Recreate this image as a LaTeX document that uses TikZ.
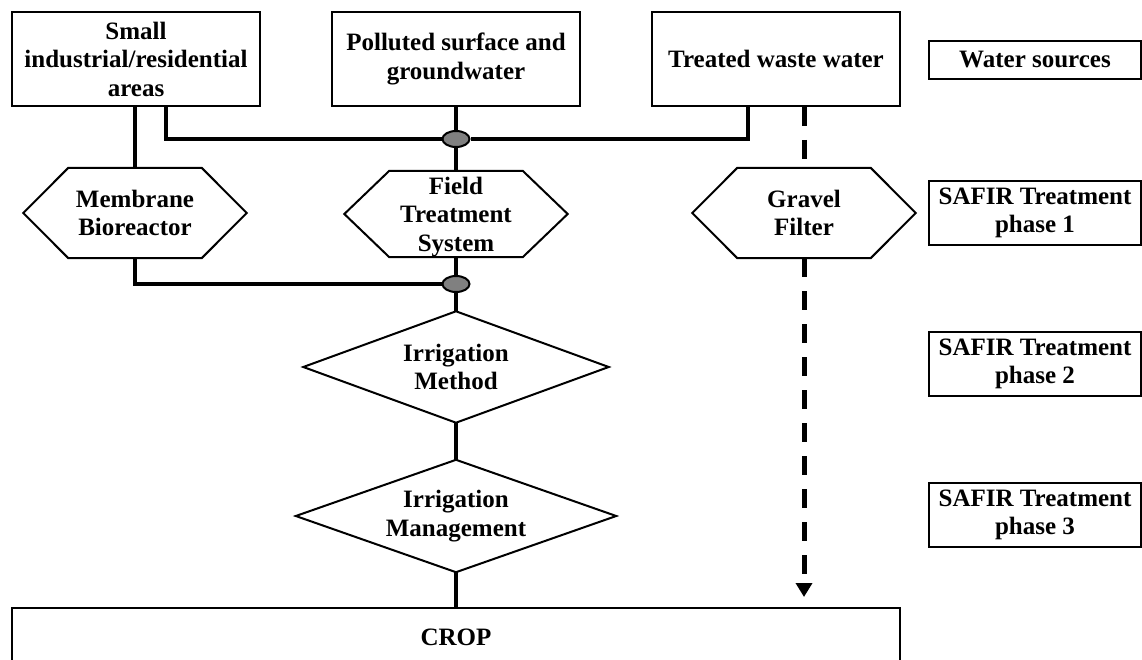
\documentclass[tikz,border=0pt]{standalone}
\usepackage{fontspec}
\setmainfont{Liberation Serif}
\usetikzlibrary{shapes.geometric,arrows.meta,calc}
\newcommand\hexframe[1]{\draw[frame] (#1.north west) -- (#1.north east) -- ([xshift=45pt]#1.east) -- (#1.south east) -- (#1.south west) -- ([xshift=-45pt]#1.west) -- cycle;}
\newcommand\diamframe[1]{\draw[frame] (#1.north) -- (#1.east) -- (#1.south) -- (#1.west) -- cycle;}
\begin{document}
\begin{tikzpicture}[x=1pt,y=-1pt,
  every node/.style={font=\bfseries\fontsize{25}{28.5}\selectfont, align=center},
  frame/.style={draw=black, line width=2pt, line join=miter},
  srcbox/.style={frame, rectangle, minimum width=248pt, minimum height=94pt, inner sep=0pt},
  sidebox/.style={frame, rectangle, minimum width=212pt, inner sep=0pt},
  hexa/.style={rectangle, minimum width=133pt, minimum height=90pt, inner sep=0pt},
  diam/.style={rectangle, inner sep=0pt},
  junc/.style={ellipse, draw=black, line width=2pt, fill=black!50, minimum width=27pt, minimum height=16pt, inner sep=0pt},
  conn/.style={line width=4.5pt, line join=miter},
  dashconn/.style={line width=5pt, dash pattern=on 19pt off 14pt}
]
\clip (0,0) rectangle (1142,660);
\useasboundingbox (0,0) rectangle (1142,660);

% water sources
\node[srcbox] (src1) at (136,59) {Small\\industrial/residential\\areas};
\node[srcbox] (src2) at (456,59) {Polluted surface and\\groundwater};
\node[srcbox] (src3) at (776,59) {Treated waste water};

% side labels
\node[sidebox, minimum height=38pt] (ws) at (1035,60) {Water sources};
\node[sidebox, minimum height=64pt] (ph1) at (1035,213) {SAFIR Treatment\\phase 1};
\node[sidebox, minimum height=64pt] (ph2) at (1035,364) {SAFIR Treatment\\phase 2};
\node[sidebox, minimum height=64pt] (ph3) at (1035,515) {SAFIR Treatment\\phase 3};

% treatment phase 1
\node[hexa] (mbr) at (135,213) {Membrane\\Bioreactor};
\node[hexa, minimum height=86pt, text depth=-4pt] (fts) at (456,214) {Field\\Treatment\\System};
\node[hexa] (gf) at (804,213) {Gravel\\Filter};
\hexframe{mbr}
\hexframe{fts}
\hexframe{gf}

% phases 2 and 3
\node[diam, minimum width=305pt, minimum height=111pt] (im) at (456,367) {Irrigation\\Method};
\node[diam, minimum width=320pt, minimum height=112pt] (mg) at (456,516) {Irrigation\\Management};
\diamframe{im}
\diamframe{mg}

% crop
\node[frame, rectangle, minimum width=888pt, minimum height=58pt, inner sep=0pt] (crop) at (456,637) {CROP};

% junctions
\node[junc] (j1) at (456,139) {};
\node[junc] (j2) at (456,284) {};

% connectors
\draw[conn] (src1.south -| mbr.north) -- (mbr.north);
\draw[conn] ([xshift=30pt]src1.south) |- (j1.west);
\draw[conn] ([xshift=-28pt]src3.south) |- (j1.east);
\draw[conn] (src2.south) -- (j1.north);
\draw[conn] (j1.south) -- (fts.north);
\draw[conn] (mbr.south) |- (j2.west);
\draw[conn] (fts.south) -- (j2.north);
\draw[conn] (j2.south) -- (im.north);
\draw[conn] (im.south) -- (mg.north);
\draw[conn] (mg.south) -- (crop.north);

\draw[dashconn] ([xshift=28pt]src3.south) -- (gf.north);
\draw[dashconn, -{Triangle[width=16pt,length=14pt]}, shorten >=10pt] (gf.south) -- (gf.south |- crop.north);
\end{tikzpicture}
\end{document}
